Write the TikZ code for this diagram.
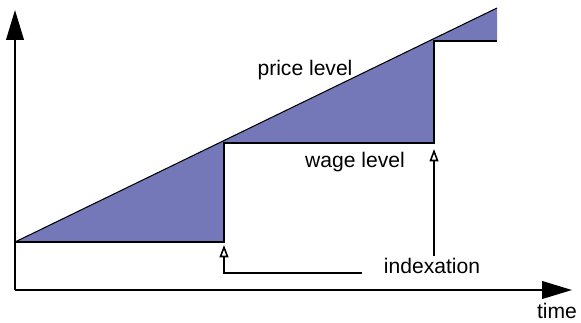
\documentclass[tikz,border=0pt]{standalone}
\usepackage{fontspec}
\setmainfont{Liberation Sans}
\usetikzlibrary{arrows.meta,positioning}
\definecolor{gap}{RGB}{116,120,184}

\begin{document}
\begin{tikzpicture}[x=0.02cm,y=-0.02cm,
  axis/.style={line width=1.1pt,-{Triangle[length=17pt,width=10pt]}},
  level/.style={line width=0.9pt},
  idxarr/.style={line width=0.9pt,-{Triangle[open,fill=white,length=7pt,width=5pt]}},
  lbl/.style={font=\fontsize{12}{14}\selectfont,inner sep=1pt}
]
\useasboundingbox (0,0) rectangle (581,322);
% shaded loss between price and wage
\fill[gap] (15,242) -- (497,8) -- (497,41) -- (434,41) -- (434,143)
  -- (224,143) -- (224,242) -- cycle;
% axes
\draw[axis] (15,290) -- (15,10);
\draw[axis] (15,290) -- (572,290);
% price and wage levels
\draw[line width=0.6pt] (15,242) -- (497,8);
\draw[level] (15,242) -- (224,242) -- (224,143) -- (434,143) -- (434,41) -- (497,41);
% labels
\node[lbl] (price) at (305,70)  {price level};
\node[lbl] (wage)  at (355,162) {wage level};
\node[lbl] (idx)   at (432,266) {indexation};
\node[lbl] (time)  at (557,311) {time};
% indexation arrows
\coordinate (t1) at (224,245);
\coordinate (t2) at (434,149);
\coordinate (k1) at (362,273);
\coordinate (k2) at (434,256);
\draw[idxarr] (k1) -| (t1);
\draw[idxarr] (k2) -- (t2);
\end{tikzpicture}
\end{document}
